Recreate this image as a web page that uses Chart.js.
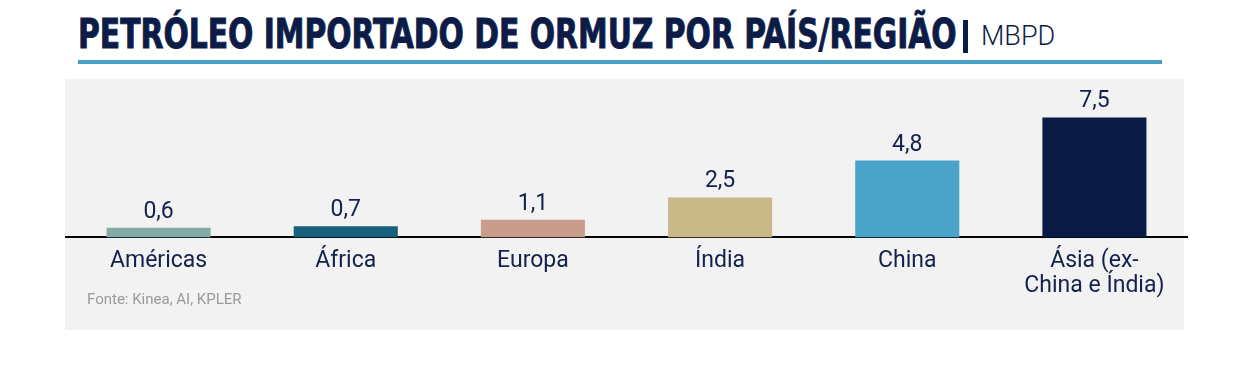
<!DOCTYPE html>
<html>
<head>
<meta charset="utf-8">
<script src="https://cdn.jsdelivr.net/npm/chart.js@4.4.1/dist/chart.umd.min.js"></script>
<style>
  body { margin: 0; background: #fff; width: 1240px; height: 371px; position: relative; overflow: hidden; }
  .abs { position: absolute; white-space: nowrap; }
  #title { left: 78px; top: 14px; font: bold 40px "Liberation Sans Narrow", "DejaVu Sans Condensed", sans-serif; line-height: 1; color: #0d1c47; -webkit-text-stroke: 0.9px #0d1c47; transform-origin: 0 0; }
  #pipe { left: 963px; top: 20px; width: 5px; height: 33px; background: #0d1c47; }
  #unit { left: 981px; top: 23px; font: 300 27px Roboto, sans-serif; line-height: 1; color: #0d1c47; transform-origin: 0 0; }
  #rule { left: 78px; top: 60px; width: 1084px; height: 4px; background: #4a9fc6; }
  #panel { left: 65px; top: 79px; width: 1119px; height: 251px; background: #f2f2f2; }
  #wrap { left: 65px; top: 79px; width: 1123px; height: 252px; }
  #source { left: 87px; top: 290px; font: 15px Roboto, sans-serif; color: #9a9a9a; }
</style>
</head>
<body>
<div class="abs" id="title">PETRÓLEO IMPORTADO DE ORMUZ POR PAÍS/REGIÃO</div>
<div class="abs" id="pipe"></div>
<div class="abs" id="unit">MBPD</div>
<div class="abs" id="rule"></div>
<div class="abs" id="panel"></div>
<div class="abs" id="wrap"><canvas id="chart"></canvas></div>
<div class="abs" id="source">Fonte: Kinea, AI, KPLER</div>
<script>
const categories = ['Américas', 'África', 'Europa', 'Índia', 'China', ['Ásia (ex-', 'China e Índia)']];
const values = [0.6, 0.7, 1.1, 2.5, 4.8, 7.5];
const barColors = ['#82aaa7', '#15607a', '#c99c8b', '#c9b987', '#4aa3c8', '#0a1c45'];

// stretch header texts to the reference widths
function fitWidth(id, target) {
  const el = document.getElementById(id);
  el.style.transform = 'scaleX(' + (target / el.offsetWidth) + ')';
}
fitWidth('title', 879);
fitWidth('unit', 74);

const navy = '#14214d';

const valueLabels = {
  id: 'valueLabels',
  afterDatasetsDraw(chart) {
    const ctx = chart.ctx;
    const meta = chart.getDatasetMeta(0);
    ctx.save();
    ctx.font = '23px Roboto';
    ctx.fillStyle = navy;
    ctx.textAlign = 'center';
    ctx.textBaseline = 'alphabetic';
    meta.data.forEach((bar, i) => {
      ctx.fillText(values[i].toFixed(1).replace('.', ','), bar.x, bar.y - 10);
    });
    ctx.restore();
  }
};

new Chart(document.getElementById('chart'), {
  type: 'bar',
  data: {
    labels: categories,
    datasets: [{
      data: values,
      backgroundColor: barColors,
      borderWidth: 0,
      categoryPercentage: 1,
      barPercentage: 0.556
    }]
  },
  options: {
    responsive: true,
    maintainAspectRatio: false,
    animation: false,
    layout: { padding: { top: 0, bottom: 29, left: 0, right: 0 } },
    plugins: { legend: { display: false }, tooltip: { enabled: false } },
    scales: {
      x: {
        grid: { display: false },
        border: { color: '#000', width: 2 },
        ticks: { color: navy, font: { family: 'Roboto', size: 23, lineHeight: 1.1 }, padding: 3, maxRotation: 0, autoSkip: false }
      },
      y: { display: false, min: 0, max: 9.9 }
    }
  },
  plugins: [valueLabels]
});
</script>
</body>
</html>
